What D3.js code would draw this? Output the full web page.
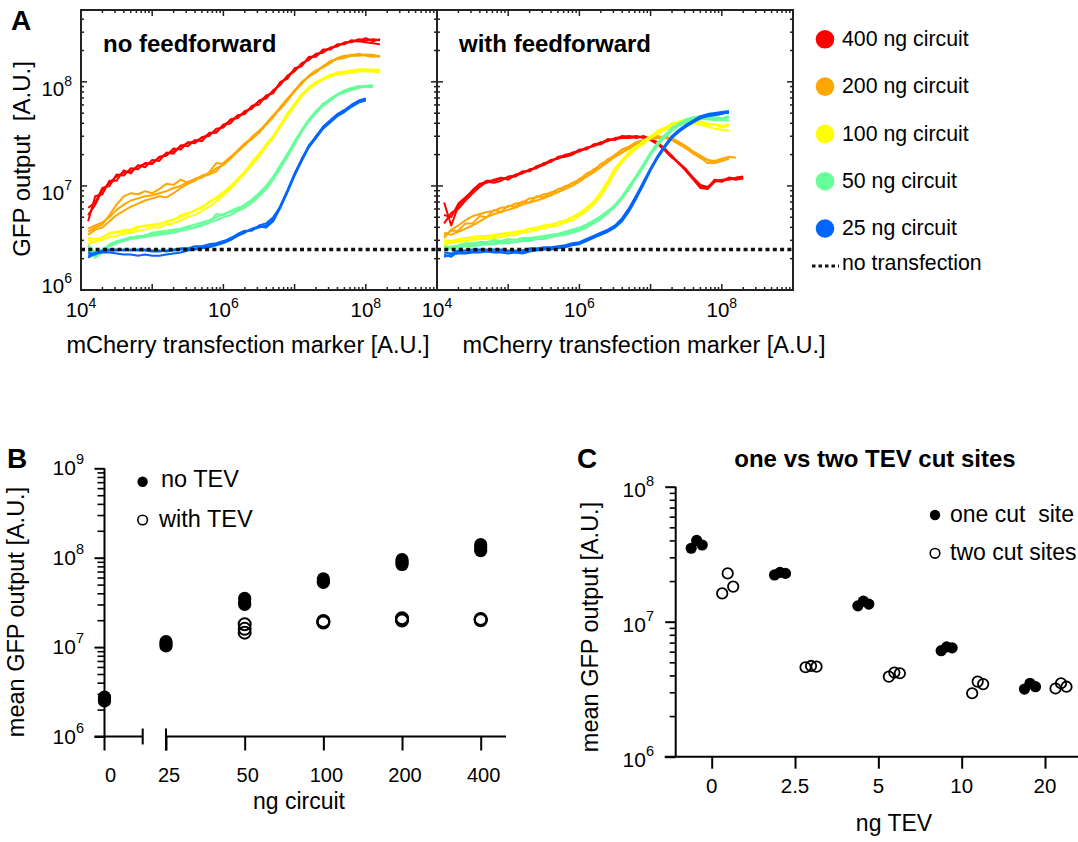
<!DOCTYPE html>
<html>
<head>
<meta charset="utf-8">
<script src="https://cdn.jsdelivr.net/npm/d3@7"></script>
<style>
  body { margin: 0; background: #fff; }
  text { font-family: "Liberation Sans", Arial, sans-serif; fill: #000; }
</style>
</head>
<body>
<script>

// ---------- data: panel A (log10 values) ----------
var curveLabels = ["400 ng circuit", "200 ng circuit", "100 ng circuit", "50 ng circuit", "25 ng circuit"];
var curveColors = ["#ff0000", "#ffa600", "#ffff00", "#66ff99", "#0066ff"];
var xGridLog = [4.1,4.2,4.3,4.4,4.5,4.6,4.7,4.8,4.9,5.0,5.1,5.2,5.3,5.4,5.5,5.6,5.7,5.8,5.9,6.0,
                6.1,6.2,6.3,6.4,6.5,6.6,6.7,6.8,6.9,7.0,7.1,7.2,7.3,7.4,7.5,7.6,7.7,7.8,7.9,8.0,
                8.1,8.2,8.3];
var noTransfection = 2.45e6;

// no feedforward, three replicates per amount
var noFF400 = [
  [6.79,6.84,6.98,7.00,7.11,7.10,7.17,7.16,7.22,7.21,7.28,7.29,7.36,7.35,7.42,7.41,7.47,7.48,7.55,7.56,7.64,7.65,7.72,7.74,7.82,7.84,7.92,7.97,8.06,8.10,8.18,8.21,8.27,8.28,8.33,8.34,8.38,8.38,8.41,8.40,8.41,8.40,null],
  [6.66,6.90,6.92,7.05,7.05,7.15,7.12,7.20,7.18,7.25,7.24,7.32,7.31,7.39,7.38,7.44,7.43,7.51,7.51,7.59,7.60,7.68,7.69,7.77,7.78,7.87,7.89,8.00,8.03,8.13,8.15,8.24,8.24,8.31,8.31,8.36,8.36,8.40,8.39,8.42,8.39,8.41,null],
  [6.72,6.82,6.96,7.03,7.09,7.13,7.14,7.19,7.21,7.22,7.27,7.31,7.33,7.38,7.41,7.43,7.46,7.50,7.52,7.58,7.63,7.67,7.70,7.76,7.81,7.86,7.90,7.99,8.05,8.12,8.16,8.23,8.25,8.30,8.32,8.35,8.37,8.39,8.39,8.38,8.37,8.36,null]
];
var noFF200 = [
  [6.56,6.60,6.63,6.72,6.82,6.90,6.93,6.92,6.95,6.93,6.97,7.02,7.01,7.06,7.03,7.07,7.08,7.13,7.22,7.21,7.27,7.34,7.41,7.46,7.52,7.60,7.68,7.75,7.83,7.92,7.99,8.05,8.10,8.15,8.19,8.22,8.24,8.26,8.26,8.26,8.25,8.24,null],
  [6.53,6.58,6.60,6.66,6.72,6.76,6.80,6.83,6.86,6.88,6.90,6.89,6.93,6.98,7.02,7.05,7.09,7.11,7.14,7.22,7.28,7.33,7.39,7.47,7.53,7.59,7.66,7.76,7.84,7.91,7.98,8.06,8.11,8.14,8.18,8.23,8.25,8.25,8.27,8.25,8.24,8.25,null],
  [6.59,6.62,6.65,6.70,6.77,6.82,6.86,6.88,6.90,6.91,6.93,6.95,6.98,7.00,7.04,7.06,7.10,7.12,7.17,7.20,7.26,7.33,7.40,7.45,7.51,7.59,7.67,7.74,7.82,7.91,8.00,8.05,8.09,8.15,8.20,8.22,8.23,8.25,8.25,8.26,8.26,8.24,null]
];
var noFF100 = [
  [6.48,6.46,6.51,6.54,6.55,6.58,6.58,6.61,6.61,6.63,6.63,6.66,6.68,6.70,6.73,6.77,6.79,6.85,6.88,6.92,6.99,7.07,7.14,7.22,7.30,7.40,7.48,7.59,7.69,7.79,7.88,7.94,7.99,8.03,8.06,8.09,8.10,8.11,8.12,8.12,8.11,8.12,null],
  [6.44,6.47,6.48,6.51,6.52,6.54,6.55,6.57,6.58,6.60,6.60,6.63,6.64,6.67,6.70,6.72,6.76,6.80,6.85,6.91,6.97,7.05,7.12,7.20,7.28,7.38,7.46,7.57,7.67,7.77,7.86,7.93,7.98,8.02,8.05,8.07,8.08,8.09,8.10,8.11,8.12,8.11,null],
  [6.50,6.49,6.50,6.55,6.56,6.56,6.57,6.60,6.62,6.62,6.64,6.65,6.67,6.72,6.74,6.76,6.80,6.84,6.89,6.94,7.00,7.06,7.13,7.23,7.31,7.39,7.47,7.58,7.70,7.78,7.87,7.95,8.00,8.03,8.07,8.08,8.09,8.10,8.11,8.10,8.10,8.09,null]
];
var noFF50 = [
  [6.41,6.33,6.38,6.44,6.47,6.48,6.51,6.50,6.53,6.53,6.55,6.55,6.57,6.58,6.60,6.60,6.64,6.64,6.73,6.72,6.76,6.79,6.81,6.86,6.92,6.99,7.08,7.19,7.30,7.42,7.54,7.64,7.72,7.78,7.84,7.88,7.91,7.93,7.95,7.96,7.96,null,null],
  [6.38,6.31,6.36,6.42,6.45,6.47,6.49,6.50,6.51,6.52,6.53,6.54,6.55,6.57,6.58,6.60,6.62,6.65,6.67,6.70,6.72,6.76,6.79,6.84,6.90,6.97,7.06,7.17,7.28,7.40,7.52,7.62,7.70,7.77,7.82,7.87,7.90,7.92,7.94,7.96,7.97,null,null],
  [6.43,6.36,6.39,6.43,6.46,6.49,6.50,6.52,6.52,6.55,6.56,6.57,6.58,6.59,6.61,6.63,6.65,6.67,6.70,6.73,6.75,6.77,6.82,6.87,6.93,7.00,7.09,7.20,7.31,7.43,7.53,7.63,7.71,7.79,7.83,7.88,7.92,7.94,7.96,7.95,7.95,null,null]
];
var noFF25 = [
  [6.33,6.36,6.37,6.38,6.38,6.39,6.38,6.39,6.39,6.38,6.38,6.37,6.38,6.39,6.39,6.40,6.41,6.42,6.44,6.46,6.50,6.53,6.56,6.58,6.60,6.62,6.68,6.81,6.96,7.12,7.26,7.38,7.48,7.56,7.62,7.68,7.72,7.77,7.81,7.83,null,null,null],
  [6.31,6.35,6.36,6.36,6.35,6.34,6.34,6.33,6.34,6.33,6.33,6.34,6.35,6.36,6.38,6.39,6.40,6.41,6.43,6.45,6.48,6.52,6.55,6.59,6.61,6.60,6.66,6.79,6.94,7.10,7.24,7.37,7.46,7.55,7.61,7.67,7.71,7.76,7.80,7.82,null,null,null],
  [6.36,6.34,6.38,6.39,6.39,6.38,6.39,6.38,6.38,6.37,6.37,6.38,6.39,6.40,6.40,6.42,6.42,6.44,6.45,6.47,6.49,6.54,6.57,6.57,6.62,6.64,6.70,6.80,6.95,7.11,7.25,7.39,7.47,7.57,7.63,7.69,7.73,7.78,7.82,7.84,null,null,null]
];

// with feedforward
var ff400 = [
  [6.84,6.62,6.81,6.88,6.96,7.02,7.03,7.06,7.08,7.06,7.11,7.12,7.16,7.17,7.22,7.23,7.28,7.29,7.32,7.33,7.37,7.38,7.42,7.43,7.46,7.47,7.48,7.46,7.48,7.45,7.42,7.35,7.29,7.21,7.15,7.08,7.01,6.99,7.05,7.04,7.07,7.06,7.08],
  [6.64,6.74,6.78,6.86,6.93,6.99,7.04,7.03,7.05,7.09,7.10,7.14,7.14,7.19,7.21,7.25,7.26,7.30,7.31,7.35,7.35,7.40,7.41,7.45,7.44,7.48,7.47,7.48,7.46,7.44,7.40,7.34,7.27,7.22,7.14,7.06,6.98,6.97,7.04,7.06,7.06,7.08,7.09],
  [6.72,6.70,6.83,6.89,6.95,7.01,7.05,7.05,7.07,7.08,7.09,7.13,7.15,7.18,7.20,7.24,7.27,7.28,7.30,7.34,7.36,7.39,7.40,7.44,7.45,7.46,7.46,7.47,7.47,7.44,7.41,7.36,7.28,7.22,7.16,7.07,7.00,6.98,7.06,7.05,7.08,7.07,7.07]
];
var ff200 = [
  [6.52,6.57,6.57,6.64,6.64,6.71,6.70,6.77,6.75,6.81,6.80,6.85,6.84,6.90,6.89,6.94,6.94,7.00,7.00,7.07,7.09,7.16,7.18,7.26,7.28,7.35,7.36,7.41,7.42,7.46,7.46,7.48,7.44,7.42,7.36,7.33,7.27,7.25,7.22,7.26,7.27,null,null],
  [6.50,6.58,6.62,6.67,6.71,6.73,6.75,6.76,6.79,6.80,6.83,6.84,6.88,6.89,6.92,6.93,6.97,6.99,7.03,7.06,7.12,7.15,7.21,7.25,7.30,7.35,7.38,7.42,7.44,7.47,7.48,7.46,7.44,7.40,7.36,7.31,7.27,7.22,7.22,7.24,7.26,null,null],
  [6.55,6.53,6.56,6.59,6.62,6.66,6.70,6.73,6.75,6.77,6.79,6.82,6.84,6.86,6.88,6.91,6.94,6.97,7.00,7.04,7.09,7.13,7.18,7.23,7.28,7.32,7.36,7.40,7.42,7.45,7.46,7.47,7.46,7.42,7.38,7.33,7.29,7.25,7.24,7.26,7.28,7.27,null]
];
var ff100 = [
  [6.46,6.45,6.48,6.47,6.50,6.49,6.52,6.51,6.54,6.53,6.56,6.55,6.59,6.58,6.62,6.61,6.65,6.65,6.70,6.72,6.79,6.83,6.94,7.03,7.17,7.23,7.33,7.36,7.43,7.46,7.53,7.54,7.60,7.60,7.64,7.61,7.62,7.58,7.59,7.56,7.58,null,null],
  [6.43,6.46,6.46,6.47,6.48,6.49,6.49,6.50,6.51,6.52,6.53,6.55,6.56,6.58,6.59,6.61,6.62,6.65,6.67,6.71,6.76,6.82,6.90,7.01,7.13,7.23,7.30,7.36,7.40,7.46,7.50,7.54,7.57,7.60,7.61,7.60,7.59,7.57,7.55,7.54,7.53,null,null],
  [6.48,6.47,6.49,6.50,6.51,6.52,6.52,6.53,6.54,6.55,6.56,6.57,6.59,6.60,6.62,6.63,6.65,6.67,6.70,6.74,6.79,6.85,6.94,7.05,7.17,7.25,7.33,7.38,7.43,7.48,7.53,7.56,7.60,7.62,7.64,7.63,7.62,7.60,7.59,7.58,7.59,null,null]
];
var ff50 = [
  [6.40,6.42,6.41,6.44,6.43,6.45,6.44,6.46,6.46,6.47,6.46,6.48,6.49,6.49,6.51,6.51,6.53,6.54,6.57,6.58,6.62,6.65,6.70,6.74,6.81,6.89,6.99,7.09,7.20,7.31,7.41,7.48,7.55,7.59,7.63,7.64,7.66,7.65,7.65,7.64,7.66,null,null],
  [6.38,6.40,6.40,6.42,6.42,6.43,6.44,6.44,6.45,6.45,6.46,6.47,6.47,6.49,6.49,6.51,6.52,6.53,6.55,6.57,6.60,6.64,6.68,6.74,6.80,6.88,6.97,7.08,7.18,7.30,7.39,7.47,7.53,7.58,7.61,7.63,7.64,7.64,7.63,7.63,7.63,null,null],
  [6.42,6.41,6.43,6.45,6.45,6.46,6.46,6.48,6.47,6.49,6.48,6.50,6.50,6.51,6.52,6.53,6.54,6.56,6.58,6.60,6.63,6.67,6.71,6.76,6.82,6.90,7.00,7.10,7.21,7.32,7.42,7.49,7.56,7.60,7.64,7.66,7.67,7.66,7.66,7.65,7.67,null,null]
];
var ff25 = [
  [6.34,6.32,6.37,6.36,6.37,6.38,6.38,6.37,6.38,6.37,6.37,6.36,6.39,6.39,6.40,6.40,6.41,6.42,6.44,6.45,6.48,6.51,6.54,6.57,6.61,6.68,6.78,6.90,7.03,7.16,7.28,7.38,7.47,7.53,7.58,7.62,7.66,7.68,7.69,7.70,7.70,null,null],
  [6.32,6.34,6.35,6.35,6.36,6.36,6.37,6.36,6.36,6.35,6.36,6.35,6.37,6.38,6.39,6.39,6.40,6.41,6.43,6.44,6.47,6.50,6.53,6.56,6.60,6.66,6.76,6.88,7.01,7.15,7.27,7.37,7.46,7.52,7.57,7.61,7.65,7.67,7.68,7.69,7.71,null,null],
  [6.36,6.35,6.38,6.38,6.39,6.39,6.39,6.39,6.39,6.38,6.38,6.38,6.40,6.40,6.41,6.41,6.42,6.43,6.45,6.46,6.49,6.52,6.55,6.58,6.62,6.69,6.79,6.91,7.04,7.17,7.29,7.39,7.48,7.54,7.59,7.63,7.67,7.69,7.70,7.71,7.72,null,null]
];

// ---------- data: panel B ----------
var bCats = ["0", "25", "50", "100", "200", "400"];
var bNoTEV = [[2.5e6, 2.6e6, 2.75e6], [1.03e7, 1.08e7, 1.15e7], [3.0e7, 3.2e7, 3.5e7],
              [5.3e7, 5.5e7, 5.8e7], [8.4e7, 8.9e7, 9.5e7], [1.2e8, 1.28e8, 1.4e8]];
var bWithTEV = [[], [], [1.45e7, 1.6e7, 1.8e7], [1.88e7, 1.92e7, 1.96e7],
                [1.98e7, 2.04e7, 2.1e7], [2.0e7, 2.03e7, 2.06e7]];

// ---------- data: panel C ----------
var cCats = ["0", "2.5", "5", "10", "20"];
var cOneSite = [[3.5e7, 4.0e7, 3.7e7], [2.22e7, 2.32e7, 2.28e7], [1.31e7, 1.42e7, 1.35e7],
                [6.1e6, 6.5e6, 6.4e6], [3.17e6, 3.5e6, 3.3e6]];
var cTwoSites = [[1.62e7, 2.28e7, 1.82e7], [4.6e6, 4.7e6, 4.65e6], [3.92e6, 4.2e6, 4.15e6],
                 [2.95e6, 3.6e6, 3.45e6], [3.2e6, 3.5e6, 3.3e6]];

// ---------- drawing ----------
var svg = d3.select("body").append("svg").attr("width", 1078).attr("height", 842);

function powLabel(g, x, y, exp, anchor, size, supSize, raise) {
  var t = g.append("text").attr("x", x).attr("y", y).attr("text-anchor", anchor).attr("font-size", size);
  t.append("tspan").text("10");
  t.append("tspan").attr("font-size", supSize).attr("dy", -raise).text(exp);
  return t;
}
function isMajor(v) { var l = Math.log10(v); return Math.abs(l - Math.round(l)) < 1e-6; }

// ===== panel A =====
var yA = d3.scaleLog().domain([1e6, 4.9e8]).range([290, 10]);
var panelsA = [
  { title: "no feedforward", labelX: 248, x: d3.scaleLog().domain([1e4, 1e9]).range([81, 437]),
    data: [noFF400, noFF200, noFF100, noFF50, noFF25] },
  { title: "with feedforward", labelX: 644, x: d3.scaleLog().domain([1e4, 1e9]).range([437, 793]),
    data: [ff400, ff200, ff100, ff50, ff25] }
];

var gA = svg.append("g");
gA.append("text").attr("x", 11).attr("y", 30).attr("font-size", 28).attr("font-weight", "bold").text("A");

panelsA.forEach(function(p) {
  var x = p.x, xr = x.range(), yr = yA.range();
  var line = d3.line()
    .defined(function(d) { return d[1] != null; })
    .x(function(d) { return x(Math.pow(10, d[0])); })
    .y(function(d) { return yA(Math.pow(10, d[1])); });

  p.data.forEach(function(reps, i) {
    reps.forEach(function(r) {
      gA.append("path")
        .datum(r.map(function(v, k) { return [xGridLog[k], v]; }))
        .attr("d", line)
        .attr("fill", "none")
        .attr("stroke", curveColors[i])
        .attr("stroke-width", 2)
        .attr("stroke-linejoin", "round");
    });
  });

  gA.append("line")
    .attr("x1", xr[0]).attr("x2", xr[1])
    .attr("y1", yA(noTransfection)).attr("y2", yA(noTransfection))
    .attr("stroke", "#111").attr("stroke-width", 3.5).attr("stroke-dasharray", "4,3.3");

  // box with inward ticks on every side
  gA.append("rect").attr("x", xr[0]).attr("y", yr[1])
    .attr("width", xr[1] - xr[0]).attr("height", yr[0] - yr[1])
    .attr("fill", "none").attr("stroke", "#222").attr("stroke-width", 2);

  x.ticks().forEach(function(t) {
    var len = isMajor(t) ? 6 : 3, px = x(t);
    if (px <= xr[0] + 1 || px >= xr[1] - 1) return;
    gA.append("line").attr("x1", px).attr("x2", px).attr("y1", yr[0]).attr("y2", yr[0] - len).attr("stroke", "#222").attr("stroke-width", 1.5);
    gA.append("line").attr("x1", px).attr("x2", px).attr("y1", yr[1]).attr("y2", yr[1] + len).attr("stroke", "#222").attr("stroke-width", 1.5);
  });
  yA.ticks().forEach(function(t) {
    var len = isMajor(t) ? 6 : 3, py = yA(t);
    if (py >= yr[0] - 1 || py <= yr[1] + 1) return;
    gA.append("line").attr("x1", xr[0]).attr("x2", xr[0] + len).attr("y1", py).attr("y2", py).attr("stroke", "#222").attr("stroke-width", 1.5);
    gA.append("line").attr("x1", xr[1]).attr("x2", xr[1] - len).attr("y1", py).attr("y2", py).attr("stroke", "#222").attr("stroke-width", 1.5);
  });

  [1e4, 1e6, 1e8].forEach(function(t) {
    powLabel(gA, x(t), 317, Math.round(Math.log10(t)), "middle", 20.5, 14, 9);
  });

  gA.append("text").attr("x", xr[0] + 22).attr("y", 52)
    .attr("font-size", 24).attr("font-weight", "bold").text(p.title);

  gA.append("text").attr("x", p.labelX).attr("y", 353)
    .attr("text-anchor", "middle").attr("font-size", 23.5)
    .text("mCherry transfection marker [A.U.]");
});

[1e6, 1e7, 1e8].forEach(function(t) {
  powLabel(gA, 72, Math.min(yA(t) + 14, 293), Math.round(Math.log10(t)), "end", 20.5, 14, 10);
});
gA.append("text")
  .attr("transform", "translate(30,159) rotate(-90)")
  .attr("text-anchor", "middle").attr("font-size", 24)
  .style("white-space", "pre")
  .text("GFP output  [A.U.]");

// legend A
var legA = svg.append("g");
curveLabels.forEach(function(lbl, i) {
  var cy = 39.3 + i * 47.3;
  legA.append("circle").attr("cx", 825).attr("cy", cy).attr("r", 9.3).attr("fill", curveColors[i]);
  legA.append("text").attr("x", 842).attr("y", cy + 6.7).attr("font-size", 21.3).text(lbl);
});
legA.append("line").attr("x1", 812).attr("x2", 839).attr("y1", 266).attr("y2", 266)
  .attr("stroke", "#111").attr("stroke-width", 3).attr("stroke-dasharray", "3.5,3");
legA.append("text").attr("x", 842).attr("y", 270).attr("font-size", 21.3).text("no transfection");

// ===== panel B =====
var gB = svg.append("g");
var yB = d3.scaleLog().domain([1e6, 1e9]).range([736.5, 468.3]);
var xBmain = d3.scalePoint().domain(bCats.slice(1)).range([166, 480.7]);
var xBzero = d3.scalePoint().domain(bCats.slice(0, 1)).range([104.5, 142.7]).align(0);
function xB(c) { return c === "0" ? xBzero(c) : xBmain(c); }
var axB = xBzero.range()[0];

gB.append("text").attr("x", 7).attr("y", 468).attr("font-size", 28).attr("font-weight", "bold").text("B");

gB.append("g").attr("transform", "translate(" + axB + ",0)")
  .call(d3.axisLeft(yB).tickValues(yB.ticks().filter(function(t) { return !isMajor(t); }))
    .tickSize(7).tickSizeOuter(0).tickFormat(""))
  .call(function(g) { g.select(".domain").remove(); g.selectAll("line").attr("stroke-width", 1.6); });
gB.append("g").attr("transform", "translate(" + axB + ",0)")
  .call(d3.axisLeft(yB).tickValues([1e6, 1e7, 1e8, 1e9]).tickSize(10).tickSizeOuter(0).tickFormat(""))
  .call(function(g) { g.select(".domain").remove(); g.selectAll("line").attr("stroke-width", 2); });
gB.append("line").attr("x1", axB).attr("x2", axB).attr("y1", yB(1e9)).attr("y2", yB(1e6) + 14)
  .attr("stroke", "#000").attr("stroke-width", 2);

// broken x axis
var yBase = yB.range()[0];
gB.append("line").attr("x1", axB - 10).attr("x2", xBzero.range()[1]).attr("y1", yBase).attr("y2", yBase).attr("stroke", "#000").attr("stroke-width", 2);
gB.append("line").attr("x1", xBzero.range()[1]).attr("x2", xBzero.range()[1]).attr("y1", yBase - 8).attr("y2", yBase + 8).attr("stroke", "#000").attr("stroke-width", 2);
gB.append("line").attr("x1", xBmain.range()[0]).attr("x2", 506).attr("y1", yBase).attr("y2", yBase).attr("stroke", "#000").attr("stroke-width", 2);
gB.append("line").attr("x1", xBmain.range()[0]).attr("x2", xBmain.range()[0]).attr("y1", yBase - 8).attr("y2", yBase + 14).attr("stroke", "#000").attr("stroke-width", 2);
gB.append("g").attr("transform", "translate(0," + yBase + ")")
  .call(d3.axisBottom(xBmain).tickSize(14).tickSizeOuter(0).tickFormat(""))
  .call(function(g) { g.select(".domain").remove(); g.selectAll("line").attr("stroke-width", 2); });

bCats.forEach(function(c) {
  gB.append("text").attr("x", xB(c) + (c === "0" ? 6 : 3)).attr("y", 782)
    .attr("text-anchor", "middle").attr("font-size", 20).text(c);
});
[1e6, 1e7, 1e8, 1e9].forEach(function(t) {
  powLabel(gB, 84, yB(t) + 7, Math.round(Math.log10(t)), "end", 21, 14.5, 11);
});
gB.append("text").attr("x", 299).attr("y", 809).attr("text-anchor", "middle").attr("font-size", 23).text("ng circuit");
gB.append("text").attr("transform", "translate(24,612) rotate(-90)")
  .attr("text-anchor", "middle").attr("font-size", 23.5).text("mean GFP output [A.U.]");

bCats.forEach(function(c, i) {
  bNoTEV[i].forEach(function(v) {
    gB.append("circle").attr("cx", xB(c)).attr("cy", yB(v)).attr("r", 6.6).attr("fill", "#000");
  });
  bWithTEV[i].forEach(function(v) {
    gB.append("circle").attr("cx", xB(c)).attr("cy", yB(v)).attr("r", 6).attr("fill", "none")
      .attr("stroke", "#000").attr("stroke-width", 2);
  });
});

gB.append("circle").attr("cx", 142.6).attr("cy", 481.7).attr("r", 5.2).attr("fill", "#000");
gB.append("text").attr("x", 161).attr("y", 487).attr("font-size", 23.5).text("no TEV");
gB.append("circle").attr("cx", 142.6).attr("cy", 520).attr("r", 4.8).attr("fill", "none").attr("stroke", "#000").attr("stroke-width", 1.6);
gB.append("text").attr("x", 159).attr("y", 527).attr("font-size", 23.5).text("with TEV");

// ===== panel C =====
var gC = svg.append("g");
var yC = d3.scaleLog().domain([1e6, 1e8]).range([756.7, 486.7]);
var xC = d3.scalePoint().domain(cCats).range([711.7, 1045]);
var xSeries = d3.scalePoint().domain(["one", "two"]).range([-15, 16]);
var xRep = d3.scalePoint().domain([0, 1, 2]).range([-5.5, 5.5]);
var axC = 675.7;

gC.append("text").attr("x", 577).attr("y", 468).attr("font-size", 28).attr("font-weight", "bold").text("C");
gC.append("text").attr("x", 875).attr("y", 467).attr("text-anchor", "middle")
  .attr("font-size", 24).attr("font-weight", "bold").text("one vs two TEV cut sites");

gC.append("g").attr("transform", "translate(" + axC + ",0)")
  .call(d3.axisLeft(yC).tickValues(yC.ticks().filter(function(t) { return !isMajor(t); }))
    .tickSize(6).tickSizeOuter(0).tickFormat(""))
  .call(function(g) { g.select(".domain").remove(); g.selectAll("line").attr("stroke-width", 1.6); });
gC.append("g").attr("transform", "translate(" + axC + ",0)")
  .call(d3.axisLeft(yC).tickValues([1e6, 1e7, 1e8]).tickSize(10.5).tickSizeOuter(0).tickFormat(""))
  .call(function(g) { g.select(".domain").remove(); g.selectAll("line").attr("stroke-width", 2); });
gC.append("line").attr("x1", axC).attr("x2", axC).attr("y1", yC(1e8)).attr("y2", yC(1e6))
  .attr("stroke", "#000").attr("stroke-width", 2);
gC.append("line").attr("x1", axC - 11).attr("x2", 1078).attr("y1", yC(1e6)).attr("y2", yC(1e6))
  .attr("stroke", "#000").attr("stroke-width", 2);
gC.append("g").attr("transform", "translate(0," + yC(1e6) + ")")
  .call(d3.axisBottom(xC).tickSize(12).tickSizeOuter(0).tickFormat(""))
  .call(function(g) { g.select(".domain").remove(); g.selectAll("line").attr("stroke-width", 2); });

cCats.forEach(function(c) {
  gC.append("text").attr("x", xC(c)).attr("y", 793).attr("text-anchor", "middle").attr("font-size", 20.5).text(c);
});
[1e6, 1e7, 1e8].forEach(function(t) {
  powLabel(gC, 654, yC(t) + 10, Math.round(Math.log10(t)), "end", 21, 14.5, 11);
});
gC.append("text").attr("x", 894).attr("y", 831).attr("text-anchor", "middle").attr("font-size", 23).text("ng TEV");
gC.append("text").attr("transform", "translate(598,627) rotate(-90)")
  .attr("text-anchor", "middle").attr("font-size", 23.5).text("mean GFP output [A.U.]");

cCats.forEach(function(c, i) {
  cOneSite[i].forEach(function(v, k) {
    gC.append("circle").attr("cx", xC(c) + xSeries("one") + xRep(k)).attr("cy", yC(v))
      .attr("r", 5.6).attr("fill", "#000");
  });
  cTwoSites[i].forEach(function(v, k) {
    gC.append("circle").attr("cx", xC(c) + xSeries("two") + xRep(k)).attr("cy", yC(v))
      .attr("r", 5.2).attr("fill", "none").attr("stroke", "#000").attr("stroke-width", 1.8);
  });
});

gC.append("circle").attr("cx", 935).attr("cy", 515).attr("r", 5.2).attr("fill", "#000");
gC.append("text").attr("x", 950).attr("y", 522).attr("font-size", 23).style("white-space", "pre").text("one cut  site");
gC.append("circle").attr("cx", 935).attr("cy", 553.3).attr("r", 4.8).attr("fill", "none").attr("stroke", "#000").attr("stroke-width", 1.6);
gC.append("text").attr("x", 950).attr("y", 560).attr("font-size", 23).text("two cut sites");

</script>
</body>
</html>
